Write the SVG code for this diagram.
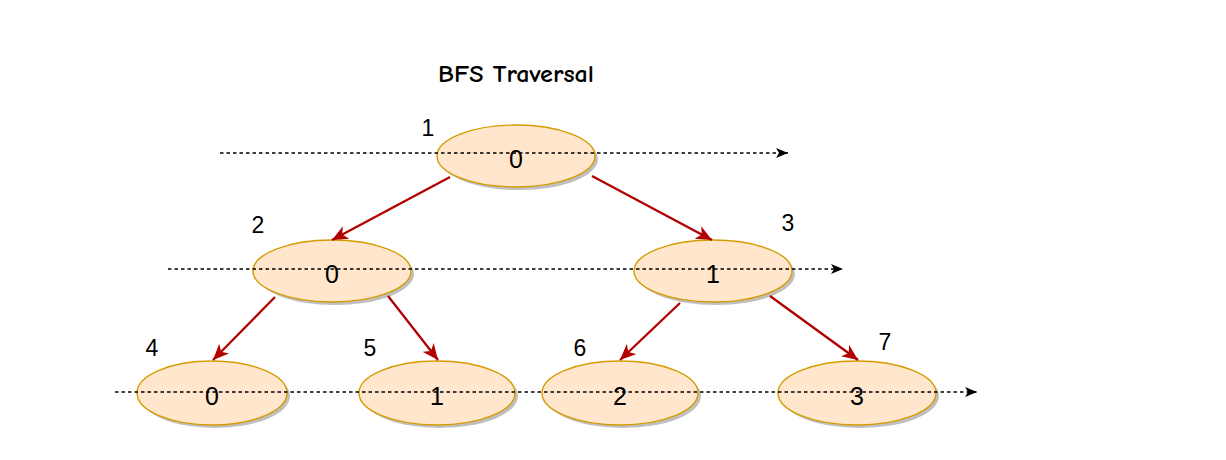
<svg xmlns="http://www.w3.org/2000/svg" width="1226" height="460" viewBox="0 0 1226 460">
<defs>
<style>
.node ellipse.shape{fill:#FFE6CC;stroke:#D79B00;stroke-width:1.4}
.node ellipse.shadow{fill:#000;opacity:0.25}
.lbl{font-family:"Liberation Sans",Arial,sans-serif;font-size:25px;fill:#000;text-anchor:middle}
.num{font-family:"Liberation Sans",Arial,sans-serif;font-size:23px;fill:#000;text-anchor:middle}
.title{font-family:"Comic Neue","Liberation Sans",sans-serif;font-size:25px;font-weight:bold;fill:#000;text-anchor:middle}
.edge{stroke:#B20000;stroke-width:2.3;fill:none}
.dash{stroke:#000;stroke-width:1.3;stroke-dasharray:3.5 3;fill:none}
</style>
<marker id="redArrow" markerUnits="userSpaceOnUse" markerWidth="18" markerHeight="14" refX="16" refY="7" orient="auto" viewBox="0 0 18 14">
<path d="M0,0 L16,7 L0,14 L4.5,7 Z" fill="#B20000"/>
</marker>
<marker id="blkArrow" markerUnits="userSpaceOnUse" markerWidth="13" markerHeight="10" refX="12" refY="5" orient="auto" viewBox="0 0 13 10">
<path d="M0,0 L12,5 L0,10 L3,5 Z" fill="#000"/>
</marker>
</defs>
<rect width="1226" height="460" fill="#fff"/>
<text class="title" x="516" y="82" textLength="156" lengthAdjust="spacingAndGlyphs">BFS Traversal</text>
<g id="n1" class="node">
<ellipse class="shadow" cx="519" cy="159" rx="79" ry="31"/>
<ellipse class="shape" cx="516" cy="156" rx="79" ry="31"/>
<text class="lbl" x="516" y="168">0</text>
</g>
<g id="n2" class="node">
<ellipse class="shadow" cx="335" cy="274" rx="79" ry="31"/>
<ellipse class="shape" cx="332" cy="271" rx="79" ry="31"/>
<text class="lbl" x="332" y="283">0</text>
</g>
<g id="n3" class="node">
<ellipse class="shadow" cx="716" cy="274" rx="79" ry="31"/>
<ellipse class="shape" cx="713" cy="271" rx="79" ry="31"/>
<text class="lbl" x="713" y="283">1</text>
</g>
<g id="n4" class="node">
<ellipse class="shadow" cx="215" cy="396" rx="75" ry="32"/>
<ellipse class="shape" cx="212" cy="393" rx="75" ry="32"/>
<text class="lbl" x="212" y="405">0</text>
</g>
<g id="n5" class="node">
<ellipse class="shadow" cx="440" cy="396" rx="78" ry="32"/>
<ellipse class="shape" cx="437" cy="393" rx="78" ry="32"/>
<text class="lbl" x="437" y="405">1</text>
</g>
<g id="n6" class="node">
<ellipse class="shadow" cx="623" cy="396" rx="78" ry="32"/>
<ellipse class="shape" cx="620" cy="393" rx="78" ry="32"/>
<text class="lbl" x="620" y="405">2</text>
</g>
<g id="n7" class="node">
<ellipse class="shadow" cx="860" cy="396" rx="79" ry="32"/>
<ellipse class="shape" cx="857" cy="393" rx="79" ry="32"/>
<text class="lbl" x="857" y="405">3</text>
</g>
<g id="order-labels">
<text class="num" x="428" y="136">1</text>
<text class="num" x="258" y="233">2</text>
<text class="num" x="788" y="231">3</text>
<text class="num" x="152" y="356">4</text>
<text class="num" x="370" y="356">5</text>
<text class="num" x="580" y="356">6</text>
<text class="num" x="885" y="350">7</text>
</g>
<g id="connectors">
<line class="dash" x1="220" y1="153" x2="788" y2="153" marker-end="url(#blkArrow)"/>
<line class="dash" x1="168" y1="269" x2="843" y2="269" marker-end="url(#blkArrow)"/>
<line class="dash" x1="115" y1="392" x2="977" y2="392" marker-end="url(#blkArrow)"/>
<line class="edge" x1="450" y1="177" x2="332" y2="240" marker-end="url(#redArrow)"/>
<line class="edge" x1="592" y1="176" x2="712" y2="240" marker-end="url(#redArrow)"/>
<line class="edge" x1="275" y1="297" x2="213" y2="360" marker-end="url(#redArrow)"/>
<line class="edge" x1="388" y1="296" x2="438" y2="360" marker-end="url(#redArrow)"/>
<line class="edge" x1="680" y1="303" x2="620" y2="360" marker-end="url(#redArrow)"/>
<line class="edge" x1="770" y1="296" x2="858" y2="360" marker-end="url(#redArrow)"/>
</g>
</svg>
